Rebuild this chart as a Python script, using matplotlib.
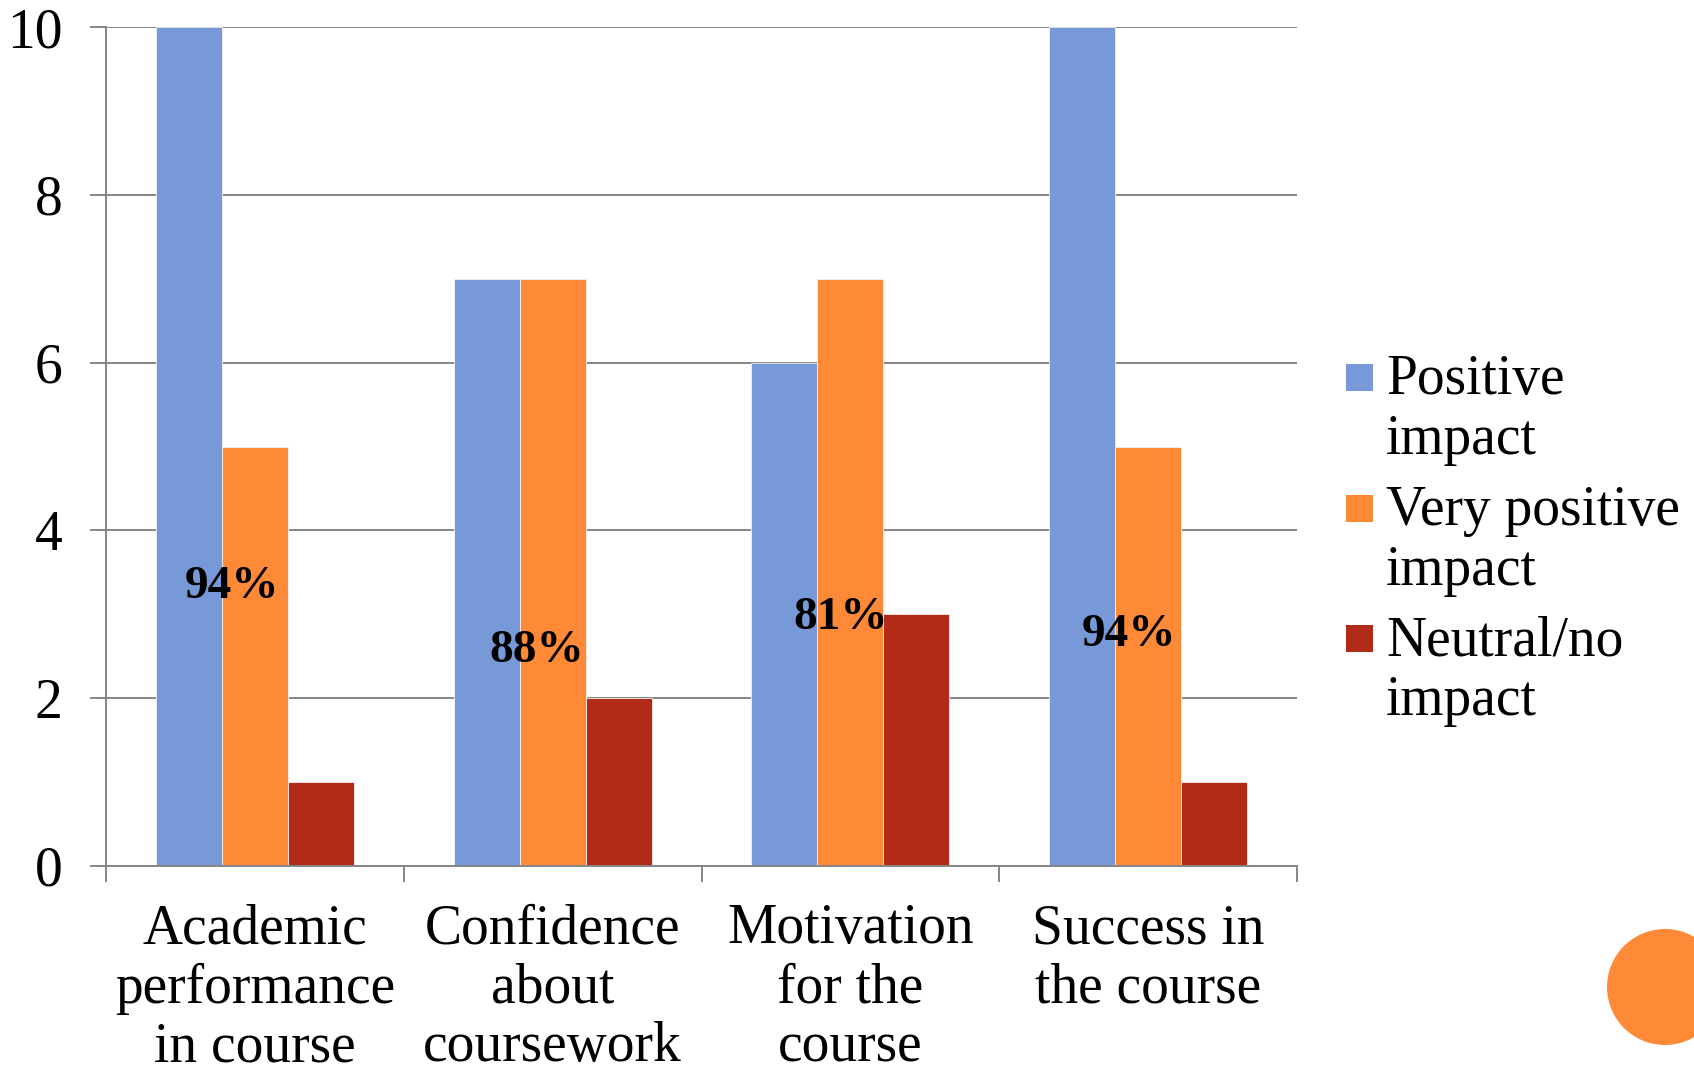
import matplotlib
matplotlib.use("Agg")
import matplotlib.pyplot as plt
from matplotlib.patches import Rectangle, Circle
import numpy as np

# Survey responses per aspect of the course
categories = ["Academic\nperformance\nin course",
              "Confidence\nabout\ncoursework",
              "Motivation\nfor the\ncourse",
              "Success in\nthe course"]
series_names = ["Positive\nimpact", "Very positive\nimpact", "Neutral/no\nimpact"]
positive = [10, 7, 6, 10]
very_positive = [5, 7, 7, 5]
neutral = [1, 2, 3, 1]

# Share of positive responses, written over each group
pct_labels = ["94%", "88%", "81%", "94%"]
pct_x_offset = [-0.077, -0.052, -0.032, -0.064]
pct_y = [3.33, 2.56, 2.96, 2.75]

yticks = [0, 2, 4, 6, 8, 10]

colors = ["#7799D8", "#FE8A38", "#B12B18"]
grid_gray = "#868686"
font = "Liberation Serif"
fs = 40
fs_pct = 34

fig = plt.figure(figsize=(16.94, 10.67), dpi=100)
ax = fig.add_axes([106 / 1694, 1 - 866 / 1067, (1297 - 106) / 1694, (866 - 27) / 1067])

x = np.arange(len(categories))
w = 0.2217
for j, vals in enumerate([positive, very_positive, neutral]):
    ax.bar(x + (j - 1) * w, vals, width=w, color=colors[j],
           edgecolor="#f4f0ee", linewidth=0.6, zorder=3)

ax.set_xlim(-0.5, len(categories) - 0.5)
ax.set_ylim(0, 10)

# Value gridlines and axes
ax.set_yticks(yticks)
ax.set_yticklabels([str(v) for v in yticks], fontfamily=font, fontsize=fs)
ax.yaxis.grid(True, color=grid_gray, linewidth=1.4, zorder=0)
ax.set_axisbelow(True)

ax.set_xticks(np.arange(len(categories) + 1) - 0.5)
ax.set_xticklabels([])
ax.set_xticks(x, minor=True)
ax.set_xticklabels(categories, minor=True, fontfamily=font, fontsize=fs,
                   linespacing=1.17, ha="center", va="top")

ax.tick_params(axis="y", which="major", direction="out", length=11.5, width=1.4,
               color=grid_gray, pad=20)
ax.tick_params(axis="x", which="major", direction="out", length=11.5, width=1.4,
               color=grid_gray)
ax.tick_params(axis="x", which="minor", length=0, pad=27)

for side in ["top", "right"]:
    ax.spines[side].set_visible(False)
for side in ["left", "bottom"]:
    ax.spines[side].set_color(grid_gray)
    ax.spines[side].set_linewidth(1.4)
    ax.spines[side].set_zorder(4)

for i, lab in enumerate(pct_labels):
    ax.text(x[i] + pct_x_offset[i], pct_y[i], lab, ha="center", va="center",
            fontfamily=font, fontsize=fs_pct, fontweight="bold", zorder=5)

# Legend: colour square beside a two-line label (anchored on the last line's baseline)
W, H = 1694, 1067
sq_tops = [364, 495, 625]
for j, name in enumerate(series_names):
    fig.patches.append(Rectangle((1346 / W, 1 - (sq_tops[j] + 27) / H), 27 / W, 27 / H,
                                 transform=fig.transFigure, facecolor=colors[j],
                                 edgecolor="none"))
    fig.text(1386 / W, 1 - (sq_tops[j] + 90) / H, name, ha="left", va="baseline",
             fontfamily=font, fontsize=fs, linespacing=1.2)

# Decorative circle in the corner
fig.patches.append(Circle((16.65, 0.80), 0.58, transform=fig.dpi_scale_trans,
                          facecolor=colors[1], edgecolor="none"))

fig.savefig("out.png", dpi=100)
